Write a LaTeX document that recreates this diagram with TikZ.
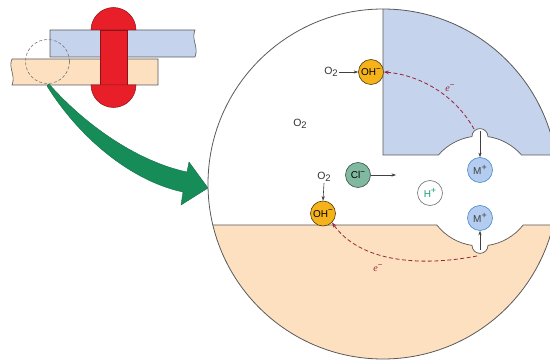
\documentclass[tikz,border=0pt]{standalone}
\usepackage{fontspec}
\setmainfont{Liberation Sans}
\newfontfamily\serifit{Liberation Serif}
\usetikzlibrary{arrows.meta}

\definecolor{plateblue}{RGB}{197,211,236}
\definecolor{platetan}{RGB}{252,224,192}
\definecolor{rivetred}{RGB}{232,30,40}
\definecolor{rivetedge}{RGB}{140,20,25}
\definecolor{arrowgreen}{RGB}{22,140,88}
\definecolor{ohorange}{RGB}{245,178,26}
\definecolor{clgreen}{RGB}{128,184,160}
\definecolor{mblue}{RGB}{180,204,240}
\definecolor{mblueedge}{RGB}{70,140,205}
\definecolor{htext}{RGB}{30,160,110}
\definecolor{edash}{RGB}{150,40,55}
\definecolor{linegray}{RGB}{90,90,90}

% superscript charge signs and the oxygen label
\newcommand\chgminus{\raisebox{0.8ex}{\fontsize{8}{8}\selectfont −}}
\newcommand\chgplus{\raisebox{0.8ex}{\fontsize{9}{9}\selectfont +}}
\newcommand\otwo{O\raisebox{-0.45ex}{\fontsize{9.5}{9.5}\selectfont 2}}
\newcommand\electron{{\serifit\itshape e}\chgminus}

\tikzset{
  ion/.style={circle, minimum size=25pt, inner sep=0pt, line width=0.6pt,
    font=\fontsize{10}{10}\selectfont},
  ohion/.style={ion, fill=ohorange, draw=black!65!ohorange},
  clion/.style={ion, fill=clgreen, draw=black!55!clgreen},
  hion/.style={ion, fill=white, draw=black!55, text=htext},
  mion/.style={ion, fill=mblue, draw=mblueedge, text=black!75},
  lbl/.style={font=\fontsize{10.5}{11}\selectfont, inner sep=1pt, text=black!80},
  elbl/.style={font=\fontsize{10}{10}\selectfont, inner sep=1pt, text=edash},
  flow/.style={-{Stealth[length=4.5pt,width=3.2pt]}, line width=0.6pt, draw=black!75},
  electron/.style={dash pattern=on 4pt off 2.5pt, line width=0.8pt, draw=edash,
    -{Stealth[length=5pt,width=3.6pt]}},
  plate/.style={draw=linegray, line width=0.7pt},
  rivet/.style={fill=rivetred, draw=rivetedge, line width=0.5pt},
}

\begin{document}
\begin{tikzpicture}[x=1pt, y=-1pt]
\useasboundingbox (0,0) rectangle (550,361);

% ---------- joint overview: two sheets held by a rivet ----------
\fill[plateblue, draw=linegray, line width=0.6pt]
  (50,30) -- (195,30) .. controls (191,40) and (199,47) .. (195,57) -- (50,57) -- cycle;
\fill[platetan, draw=linegray, line width=0.6pt]
  (12,59) -- (158,59) -- (158,85) -- (12,85) .. controls (16,75) and (8,68) .. (12,59) -- cycle;
\draw[rivet] (100,30) rectangle (127,85);
\draw[rivet] (91,30) arc[start angle=180, end angle=360, radius=22.5] -- cycle;
\draw[rivet] (91,85) arc[start angle=180, end angle=0, radius=22.5] -- cycle;
\draw[black!55, dash pattern=on 3pt off 2pt, line width=0.6pt] (47.5,61.5) circle (22);

% ---------- curved arrow into the enlarged view ----------
\fill[arrowgreen, draw=arrowgreen!80!black, line width=0.4pt]
  (49,84) .. controls (88,128) and (140,162) .. (187,172)
  -- (189,162) -- (208,188) -- (181,205) -- (183,192)
  .. controls (135,182) and (82,142) .. (47,86) -- cycle;

% ---------- enlarged crevice ----------
\begin{scope}
  \clip (383,184) circle (175);
  \fill[white] (383,184) circle (175);
  % upper sheet with the pit
  \filldraw[plate, fill=plateblue]
    (383,-20) -- (383,155) -- (438.4,155)
    arc[start angle=220.9, end angle=261.6, radius=55]
    arc[start angle=180, end angle=360, radius=8]
    arc[start angle=278.4, end angle=319.1, radius=55]
    -- (600,155) -- (600,-20) -- cycle;
  % lower sheet with the pit
  \filldraw[plate, fill=platetan]
    (150,225) -- (436.8,225)
    arc[start angle=141.8, end angle=98.4, radius=55]
    arc[start angle=180, end angle=0, radius=8]
    arc[start angle=81.6, end angle=38.2, radius=55]
    -- (600,225) -- (600,400) -- (150,400) -- cycle;
\end{scope}
\draw[linegray, line width=0.8pt] (383,184) circle (175);

% ---------- species ----------
\node[ohion] (oha) at (371,72) {OH\chgminus};
\node[lbl] (o2a) at (331,72) {\otwo};
\node[lbl] (o2free) at (300,124) {\otwo};
\node[lbl] (o2b) at (324,177) {\otwo};
\node[ohion] (ohb) at (323,213.5) {OH\chgminus};
\node[clion] (cl) at (358,175) {Cl\chgminus};
\node[hion] (h) at (430,193) {H\chgplus};
\node[mion] (mup) at (480,170) {M\chgplus};
\node[mion] (mlow) at (480,218) {M\chgplus};

\coordinate (clgo) at (396,175);
\coordinate (pittop) at (480,131);
\coordinate (pitbot) at (480,250);
\coordinate (etop) at (474,129);
\coordinate (ebot) at (477,256);

\draw[flow] (o2a.east) -- (oha.west);
\draw[flow] (o2b.south) -- (ohb.north);
\draw[flow] (cl.east) -- (clgo);
\draw[flow] (pittop) -- (mup.north);
\draw[flow] (pitbot) -- (mlow.south);

% ---------- electron paths ----------
\draw[electron] (etop) .. controls (455,95) and (420,75) .. (oha.east);
\draw[electron] (ebot) .. controls (420,267) and (360,262) .. (ohb.south east);
\node[elbl] (ea) at (450,88) {\electron};
\node[elbl] (eb) at (378,268) {\electron};
\end{tikzpicture}
\end{document}
